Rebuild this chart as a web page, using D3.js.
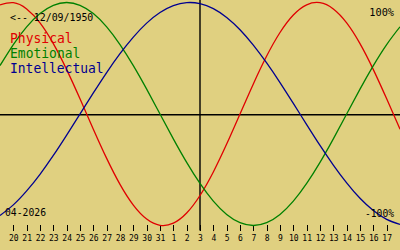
<!DOCTYPE html>
<html>
<head>
<meta charset="utf-8">
<script src="https://cdn.jsdelivr.net/npm/d3@7"></script>
<style>
  html, body { margin: 0; padding: 0; background: #e0d080; }
  svg { display: block; }
  text { font-family: "DejaVu Sans Mono", "Liberation Mono", monospace; }
</style>
</head>
<body>
<svg id="chart" width="400" height="250"></svg>
<script>
// Days shown along the axis: Mar 19 .. Apr 18 (index -1 .. 29); ticks for Mar 20 .. Apr 17
const dayIndex = d3.range(-1, 30);
const tickLabels = ["20","21","22","23","24","25","26","27","28","29","30","31",
                    "1","2","3","4","5","6","7","8","9","10","11","12","13","14","15","16","17"];

// Biorhythm values read per day (Mar 19 .. Apr 18)
const physical = [0.979, 0.998, 0.942, 0.817, 0.631, 0.398, 0.136, -0.136, -0.398, -0.631,
                  -0.817, -0.942, -0.998, -0.979, -0.888, -0.731, -0.520, -0.270, 0, 0.270,
                  0.520, 0.731, 0.888, 0.979, 0.998, 0.942, 0.817, 0.631, 0.398, 0.136, -0.136];
const emotional = [0.434, 0.623, 0.782, 0.901, 0.975, 1.000, 0.975, 0.901, 0.782, 0.623,
                   0.434, 0.223, 0, -0.223, -0.434, -0.623, -0.782, -0.901, -0.975, -1.000,
                   -0.975, -0.901, -0.782, -0.623, -0.434, -0.223, 0, 0.223, 0.434, 0.623, 0.782];
const intellectual = [-0.910, -0.815, -0.690, -0.541, -0.372, -0.189, 0, 0.189, 0.372, 0.541,
                      0.690, 0.815, 0.910, 0.972, 0.999, 0.990, 0.945, 0.866, 0.756, 0.618,
                      0.458, 0.282, 0.095, -0.095, -0.282, -0.458, -0.618, -0.756, -0.866, -0.945, -0.990];

const seriesNames = ["Physical", "Emotional", "Intellectual"];
const seriesColors = ["#e00000", "#008000", "#000090"];
const seriesData = [physical, emotional, intellectual];

const todayIndex = 14; // Apr 3
const birthLabel = "<-- 12/09/1950";
const monthLabel = "04-2026";
const topLabel = "100%";
const bottomLabel = "-100%";

const W = 400, H = 250;
const svg = d3.select("#chart");

const x = d3.scaleLinear().domain([-1, 29]).range([0, W]);
const y = d3.scaleLinear().domain([-1, 1]).range([225.5, 2.5]);

// zero line
svg.append("line")
  .attr("x1", 0).attr("x2", W)
  .attr("y1", 114.8).attr("y2", 114.8)
  .attr("stroke", "#000").attr("stroke-width", 1.4);

// today vertical line
svg.append("line")
  .attr("x1", x(todayIndex)).attr("x2", x(todayIndex))
  .attr("y1", 0).attr("y2", 230.5)
  .attr("stroke", "#000").attr("stroke-width", 1.4);

// axis ticks
const axis = d3.axisBottom(x)
  .tickValues(d3.range(0, 29))
  .tickFormat(i => tickLabels[i])
  .tickSize(5.5)
  .tickPadding(4.5);

const gAxis = svg.append("g")
  .attr("transform", "translate(0,225)")
  .call(axis);
gAxis.select(".domain").remove();
gAxis.selectAll(".tick line").attr("stroke", "#000").attr("stroke-width", 1).attr("shape-rendering", "crispEdges");
gAxis.selectAll(".tick text")
  .attr("fill", "#000")
  .style("font-size", "8px")
  .style("font-family", "'DejaVu Sans Mono', monospace");

// curves
const line = d3.line()
  .x((d, i) => x(dayIndex[i]))
  .y(d => y(d))
  .curve(d3.curveNatural);

seriesData.forEach((s, k) => {
  svg.append("path")
    .datum(s)
    .attr("fill", "none")
    .attr("stroke", seriesColors[k])
    .attr("stroke-width", 1.3)
    .attr("d", line);
});

// legend
const legendY = [43.3, 58.1, 72.8];
const legendW = [62.7, 70.4, 93.6];
seriesNames.forEach((n, k) => {
  svg.append("text")
    .attr("x", 10).attr("y", legendY[k])
    .attr("fill", seriesColors[k])
    .attr("textLength", legendW[k])
    .attr("lengthAdjust", "spacingAndGlyphs")
    .style("font-size", "14.5px")
    .text(n);
});

// labels
function label(t, xx, yy, len, size) {
  svg.append("text")
    .attr("x", xx).attr("y", yy)
    .attr("fill", "#000")
    .attr("textLength", len)
    .attr("lengthAdjust", "spacingAndGlyphs")
    .style("font-size", size + "px")
    .text(t);
}
label(birthLabel, 10, 20.7, 83.3, 11);
label(topLabel, 369.3, 16, 24.7, 10.5);
label(monthLabel, 5, 216, 41, 11);
label(bottomLabel, 365, 216.5, 29, 10.5);
</script>
</body>
</html>
